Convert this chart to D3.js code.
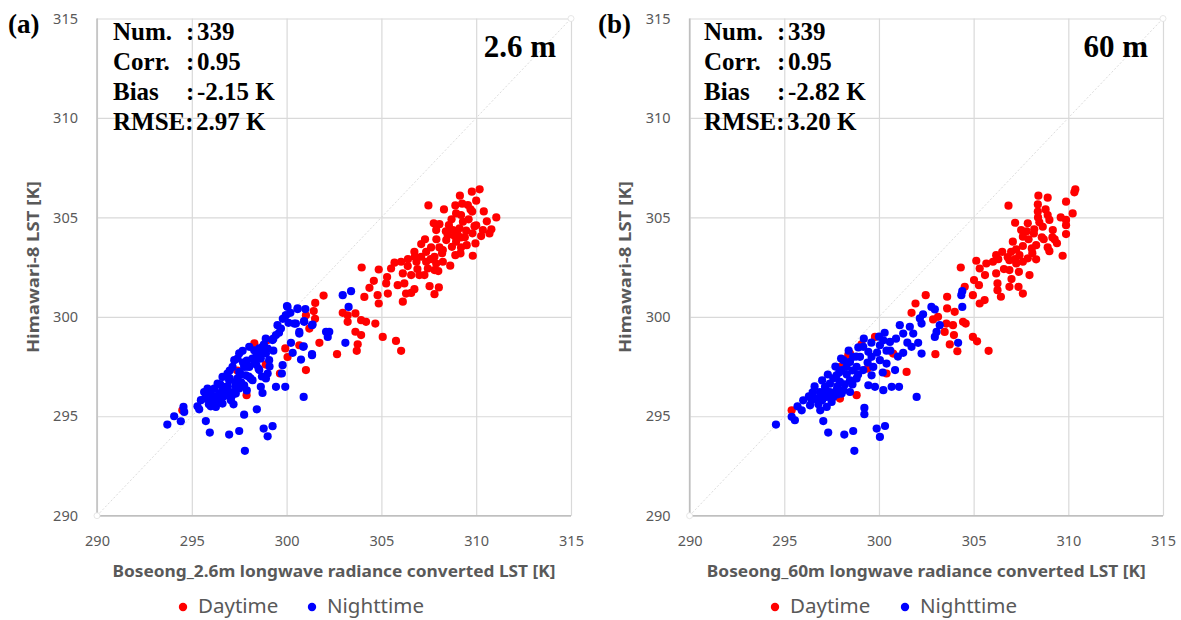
<!DOCTYPE html>
<html><head><meta charset="utf-8">
<script src="https://cdn.jsdelivr.net/npm/d3@7"></script>
<style>
body{margin:0;background:#fff;}
svg{display:block;}
</style></head>
<body><svg id="c" width="1181" height="620"></svg>
<script>
const ticks = [290,295,300,305,310,315];
const panelLabels = ["(a)","(b)"];
const resLabels = ["2.6 m","60 m"];
const xTitles = ["Boseong_2.6m longwave radiance converted LST [K]","Boseong_60m longwave radiance converted LST [K]"];
const yTitle = "Himawari-8 LST [K]";
const statsA = {num:"339", corr:"0.95", bias:"-2.15 K", rmse:"2.97 K"};
const statsB = {num:"339", corr:"0.95", bias:"-2.82 K", rmse:"3.20 K"};
const seriesNames = ["Daytime","Nighttime"];

const dayA = [
[310.18,306.41],[309.77,306.29],[309.14,306.09],[310.0,305.84],[309.26,305.69],[309.56,305.62],[307.48,305.6],
[309.79,305.29],[308.94,305.2],[309.2,305.12],[311.06,305.0],[310.56,304.8],[307.76,304.7],[308.06,304.66],
[308.56,304.61],[309.3,304.78],[309.91,304.56],[307.89,304.36],[308.77,304.36],[309.12,304.45],[309.47,304.33],
[310.35,304.36],[310.7,304.19],[310.26,304.06],[308.86,304.06],[309.2,303.99],[308.42,303.86],[308.94,303.78],
[309.96,303.69],[307.1,303.66],[307.62,303.49],[308.06,303.49],[309.2,303.49],[306.74,303.27],[307.36,303.27],
[308.24,303.36],[308.72,303.52],[309.17,303.19],[306.76,303.02],[307.1,303.02],[307.8,303.02],[309.82,303.07],
[306.85,302.77],[307.36,302.77],[307.89,302.68],[308.24,302.77],[308.63,302.57],[305.69,302.72],[306.04,302.77],
[306.39,302.55],[305.51,302.43],[303.96,302.48],[304.86,302.38],[307.45,302.43],[307.8,302.35],[306.13,302.18],
[306.57,302.1],[307.27,302.1],[304.6,301.81],[305.25,301.68],[305.86,301.59],[306.21,301.68],[304.37,301.46],
[306.74,301.39],[307.54,301.54],[308.03,301.48],[307.8,301.14],[306.3,301.17],[306.57,301.2],[305.34,301.17],
[304.8,301.09],[304.1,301.0],[306.13,300.76],[304.86,300.67],[301.95,301.07],[301.51,300.7],[301.43,300.29],
[302.96,300.2],[303.22,300.08],[303.63,300.17],[303.93,299.83],[304.19,299.75],[304.68,299.66],[303.22,299.75],
[303.63,299.25],[303.93,299.08],[305.07,298.99],[305.77,298.79],[306.04,298.29],[303.75,298.62],[303.7,298.29],
[302.66,298.12],[301.73,298.69],[301.02,300.08],[301.2,299.41],[300.67,298.57],[308.5,304.1],[309.6,304.9],
[308.3,305.4],[307.9,303.9],[301.02,297.32],[300.05,297.98],[299.65,297.15],[297.89,296.06],[294.5,295.3],
[298.3,298.66],[299.0,298.83],[299.93,298.41],[298.9,297.6],[297.4,297.3],[301.5,299.9],
[309.0,304.2],[308.7,304.9],[309.5,303.6],[308.2,303.2],[307.6,302.9],[310.0,304.6],[309.7,305.4],
[308.9,305.6],[307.3,303.9],[306.9,302.4],[308.4,304.3],[309.4,304.0],[310.4,305.3],[307.0,302.1],
[306.4,302.9],[305.3,302.0],[308.0,302.3],[308.9,303.1],[309.8,304.2],[310.8,304.4]
];
const nightA = [
[302.96,301.09],[303.4,301.29],[303.27,300.5],[302.08,299.25],[302.25,299.25],[302.17,298.99],[303.1,298.69],
[300.05,300.5],[300.58,300.39],[300.99,300.39],[299.96,300.08],[300.4,299.66],[300.92,299.78],[301.34,299.58],
[300.67,299.16],[300.88,298.49],[301.34,298.12],[300.02,300.54],[300.58,300.42],[299.96,300.08],[300.1,299.7],
[300.49,299.66],[300.93,299.75],[301.37,299.61],[300.67,299.24],[299.52,299.58],[299.7,299.41],[299.44,299.08],
[299.26,298.83],[300.23,298.69],[300.9,298.52],[301.34,298.07],[300.76,297.85],[300.32,298.19],[299.79,297.57],
[299.75,297.15],[298.73,298.49],[298.56,298.41],[298.29,298.32],[298.03,298.49],[297.68,298.29],[297.41,297.9],
[297.24,297.82],[297.5,298.16],[298.91,298.16],[299.08,297.82],[298.64,297.9],[298.29,297.73],[298.03,297.48],
[297.76,297.48],[298.56,297.32],[299.0,297.15],[297.5,297.23],[297.15,297.48],[296.88,297.15],[296.62,296.98],
[296.97,296.81],[297.41,296.9],[297.85,297.06],[298.2,296.81],[297.76,296.56],[297.32,296.48],[296.8,296.48],
[296.36,296.64],[296.18,296.39],[295.83,296.39],[295.65,296.22],[296.0,296.14],[296.44,296.14],[296.88,296.14],
[297.32,296.14],[296.36,295.81],[296.0,295.81],[295.48,295.81],[296.62,295.64],[296.27,295.47],[297.06,295.81],
[298.64,296.48],[299.44,296.48],[299.93,296.48],[298.73,296.17],[300.9,295.97],[298.43,295.35],[297.76,295.08],
[295.39,295.35],[294.56,295.47],[294.6,295.22],[294.07,295.0],[294.42,294.75],[293.71,294.58],[295.74,294.76],
[295.95,294.18],[296.97,294.08],[297.5,294.26],[298.79,294.38],[299.26,294.5],[299.0,293.99],[297.8,293.26],
[298.52,297.4],[298.91,296.9],[297.0,296.9],[297.6,296.7],[298.0,297.0],[296.6,296.3],[297.1,296.2],
[298.4,298.0],[298.8,298.6],[299.3,298.3],[297.9,297.8],[296.4,295.9],[295.9,295.6],[297.9,296.3],
[296.2,296.0],[296.5,296.6],[296.9,296.5],[297.3,296.7],[297.6,297.1],[297.9,297.5],[298.2,297.9],
[298.6,298.2],[299.0,298.4],[299.3,298.9],[299.6,299.2],[299.8,299.9],[300.2,300.2],[297.0,297.3],
[296.7,296.0],[296.3,295.7],[295.7,295.9],[295.3,295.5],[297.5,296.4],[298.1,296.9],[298.4,297.6],
[297.2,295.6],[296.0,295.5],[299.1,297.5],[298.7,297.0],[297.1,296.0],[296.5,295.7],[297.7,297.7],[298.9,298.9]
];
const dayB = [
[310.37,306.41],[310.32,306.26],[308.42,306.09],[308.91,305.99],[306.84,305.59],[308.39,305.65],[309.88,305.79],
[308.39,305.29],[310.23,305.2],[308.91,305.12],[309.0,304.87],[309.88,304.87],[307.19,304.73],[307.86,304.7],
[308.47,304.75],[309.88,304.61],[308.65,304.53],[309.18,304.36],[307.51,304.36],[308.18,304.19],[309.88,304.16],
[307.6,304.03],[309.16,303.99],[307.07,303.78],[309.28,303.89],[308.91,303.49],[307.6,303.56],[308.07,303.44],
[307.25,303.39],[306.98,303.27],[306.51,303.27],[306.19,303.1],[307.42,303.1],[307.86,302.94],[308.3,302.89],
[309.7,303.07],[306.89,302.85],[307.25,302.68],[307.6,302.77],[305.67,302.68],[306.02,302.77],[305.14,302.82],
[304.32,302.48],[305.32,302.43],[306.19,302.18],[306.89,302.35],[307.39,302.26],[307.95,302.1],[305.02,301.85],
[305.28,301.59],[306.26,301.68],[306.89,301.51],[307.37,301.51],[306.26,301.34],[306.44,301.01],[307.6,301.17],
[304.53,301.51],[304.96,301.09],[305.58,300.84],[305.32,300.67],[302.47,301.09],[303.6,301.01],[301.93,300.67],
[301.72,300.2],[303.6,300.42],[304.0,300.25],[303.12,300.0],[302.86,299.87],[303.56,299.66],[303.91,299.58],
[304.44,299.75],[304.58,299.66],[303.47,299.24],[303.96,299.08],[304.96,298.99],[305.18,298.77],[303.74,298.61],
[304.14,298.27],[302.98,298.12],[305.79,298.29],[300.75,298.15],[299.79,298.99],[308.2,304.4],[307.9,303.9],
[308.7,303.9],[306.8,303.0],[295.39,295.3],[298.38,298.07],[299.08,298.62],[298.82,296.06],[297.94,295.89],
[300.4,297.15],[301.46,297.23],[298.47,298.15],[299.4,297.4],[298.0,297.5],
[308.6,304.0],[309.4,303.7],[308.3,303.6],[307.2,302.9],[308.8,305.4],[309.6,305.0],[307.8,304.3],
[308.1,303.2],[306.6,302.4],[307.0,301.9],[305.6,302.1],[309.0,303.3],[308.4,305.0],[306.3,302.9]
];
const nightB = [
[304.4,301.29],[304.35,301.09],[304.4,300.5],[302.77,300.5],[302.95,300.37],[302.33,300.13],[302.16,299.92],
[302.25,299.66],[303.21,299.58],[303.04,299.24],[302.95,298.99],[301.63,299.5],[301.1,299.58],[301.81,299.16],
[301.28,299.16],[302.07,298.69],[304.18,298.69],[300.23,298.82],[300.58,298.74],[300.05,298.57],[301.72,298.49],
[302.25,298.15],[301.28,298.19],[298.91,298.46],[299.17,298.49],[299.44,298.24],[298.64,297.99],[298.47,297.73],
[298.82,297.48],[299.17,297.32],[299.61,297.06],[298.12,297.82],[298.29,297.48],[298.03,297.32],[297.76,297.06],
[297.59,296.9],[297.94,296.73],[298.47,296.81],[297.41,296.64],[297.15,296.48],[296.88,296.22],[297.41,296.22],
[297.76,296.31],[298.12,296.31],[298.47,296.22],[297.24,295.97],[297.59,295.97],[297.0,295.81],[297.5,295.72],
[297.24,295.47],[296.44,295.81],[296.36,295.55],[295.92,295.3],[295.56,294.8],[295.39,294.97],[294.56,294.58],
[297.06,294.76],[297.32,294.18],[298.17,294.08],[298.64,294.26],[299.23,295.42],[299.23,295.1],[299.88,294.38],
[300.32,294.51],[300.05,293.96],[298.7,293.26],[301.99,295.97],[300.23,296.31],[300.67,296.48],[301.06,296.48],
[300.4,297.65],[300.85,297.32],[299.79,296.48],[299.44,296.56],[298.03,296.14],[298.82,296.9],[299.0,297.99],
[299.7,297.48],[300.05,297.82],[299.61,297.99],[300.6,298.3],[300.9,298.9],[301.5,298.7],[298.3,297.1],
[297.8,296.5],[297.0,296.1],[296.8,295.6],[298.6,297.3],[299.9,298.2],[300.3,299.2],[301.0,298.0],
[296.3,296.0],[296.6,296.5],[297.0,296.8],[297.3,297.1],[297.7,297.5],[298.0,297.9],[298.4,298.3],
[298.8,298.0],[299.2,298.9],[299.6,298.7],[300.0,299.0],[300.4,298.3],[296.0,295.8],[295.7,295.5],
[296.7,295.9],[297.4,296.0],[298.2,296.6],[298.9,297.1],[299.4,297.7],[297.8,296.1],[296.9,295.3],[300.2,297.2],
[297.2,296.3],[298.6,296.6],[297.9,297.2],[296.5,296.2]
];

const panels = [
  {label:panelLabels[0], res:resLabels[0], xt:xTitles[0], stats:statsA, day:dayA, night:nightA,
   x0:97, x1:571, ytx:33, statX:113, resX:556, labX:8, leg:[183,312], xtLen:443},
  {label:panelLabels[1], res:resLabels[1], xt:xTitles[1], stats:statsB, day:dayB, night:nightB,
   x0:689.6, x1:1163, ytx:625, statX:704, resX:1148, labX:598, leg:[775,905], xtLen:439}
];
const yTop = 18.5, yBot = 515.7;
const svg = d3.select("#c");
const gray = "#595959";
const sans = "'Noto Sans', 'Open Sans', sans-serif";
const serif = "'Liberation Serif', 'Times New Roman', serif";

panels.forEach(p => {
  const x = d3.scaleLinear().domain([290,315]).range([p.x0,p.x1]);
  const y = d3.scaleLinear().domain([290,315]).range([yBot,yTop]);
  const g = svg.append("g");

  // gridlines
  g.append("g").attr("transform",`translate(0,${yBot})`)
    .call(d3.axisBottom(x).tickValues(ticks).tickSize(-(yBot-yTop)).tickFormat(""))
    .call(s=>{s.select(".domain").remove(); s.selectAll("line").attr("stroke","#d9d9d9").attr("stroke-width",1.2);});
  g.append("g").attr("transform",`translate(${p.x0},0)`)
    .call(d3.axisLeft(y).tickValues(ticks).tickSize(-(p.x1-p.x0)).tickFormat(""))
    .call(s=>{s.select(".domain").remove(); s.selectAll("line").attr("stroke","#d9d9d9").attr("stroke-width",1.2);});
  // axis lines
  g.append("line").attr("x1",p.x0).attr("x2",p.x1).attr("y1",yBot).attr("y2",yBot).attr("stroke","#bfbfbf").attr("stroke-width",1.5);
  g.append("line").attr("x1",p.x0).attr("x2",p.x0).attr("y1",yTop).attr("y2",yBot).attr("stroke","#bfbfbf").attr("stroke-width",1.5);

  // tick labels
  g.append("g").attr("transform",`translate(0,${yBot})`)
    .call(d3.axisBottom(x).tickValues(ticks).tickSize(0).tickPadding(20))
    .call(s=>{s.select(".domain").remove(); s.selectAll("text").attr("fill",gray).style("font-family",sans).style("font-size","14.5px");});
  g.append("g").attr("transform",`translate(${p.x0},0)`)
    .call(d3.axisLeft(y).tickValues(ticks).tickSize(0).tickPadding(19))
    .call(s=>{s.select(".domain").remove(); s.selectAll("text").attr("fill",gray).style("font-family",sans).style("font-size","14.5px");});

  // 1:1 line
  g.append("line").attr("x1",x(290)).attr("y1",y(290)).attr("x2",x(315)).attr("y2",y(315))
    .attr("stroke","#dcdcdc").attr("stroke-width",1).attr("stroke-dasharray","2,2");
  [290,315].forEach(v=>g.append("circle").attr("cx",x(v)).attr("cy",y(v)).attr("r",3)
    .attr("fill","#fff").attr("stroke","#e0e0e0").attr("stroke-width",0.8));

  // points
  g.append("g").selectAll("circle").data(p.day).join("circle")
    .attr("cx",d=>x(d[0])).attr("cy",d=>y(d[1])).attr("r",4.1).attr("fill","#ff0000");
  g.append("g").selectAll("circle").data(p.night).join("circle")
    .attr("cx",d=>x(d[0])).attr("cy",d=>y(d[1])).attr("r",4.1).attr("fill","#0000ff");

  // axis titles
  g.append("text").attr("x",(p.x0+p.x1)/2).attr("y",577).attr("text-anchor","middle")
    .attr("textLength", p.xtLen).attr("lengthAdjust","spacingAndGlyphs")
    .attr("fill",gray).style("font-family",sans).style("font-weight","bold").style("font-size","16px").text(p.xt);
  g.append("text").attr("transform",`translate(${p.ytx+6},${(yTop+yBot)/2}) rotate(-90)`).attr("text-anchor","middle")
    .attr("textLength",172).attr("lengthAdjust","spacingAndGlyphs")
    .attr("fill",gray).style("font-family",sans).style("font-weight","bold").style("font-size","16px").text(yTitle);

  // legend
  const lg = g.append("g");
  lg.append("circle").attr("cx",p.leg[0]).attr("cy",607).attr("r",4.2).attr("fill","#ff0000");
  lg.append("text").attr("x",p.leg[0]+15).attr("y",613).attr("fill",gray).style("font-family",sans).style("font-size","20.5px").text(seriesNames[0]);
  lg.append("circle").attr("cx",p.leg[1]).attr("cy",607).attr("r",4.2).attr("fill","#0000ff");
  lg.append("text").attr("x",p.leg[1]+15).attr("y",613).attr("fill",gray).style("font-family",sans).style("font-size","20.5px").text(seriesNames[1]);

  // panel label
  g.append("text").attr("x",p.labX).attr("y",33).style("font-family",serif).style("font-weight","bold").style("font-size","27px").text(p.label);
  g.append("text").attr("x",p.resX).attr("y",57).attr("text-anchor","end").style("font-family",serif).style("font-weight","bold").style("font-size","31px").text(p.res);

  // stats
  const st = g.append("g").style("font-family",serif).style("font-weight","bold").style("font-size","25px");
  const rows = [["Num.", p.stats.num],["Corr.", p.stats.corr],["Bias", p.stats.bias]];
  const bl = [40,70,100,130];
  rows.forEach((r,i)=>{
    st.append("text").attr("x",p.statX).attr("y",bl[i]).text(r[0]);
    st.append("text").attr("x",p.statX+73).attr("y",bl[i]).text(":");
    st.append("text").attr("x",p.statX+84).attr("y",bl[i]).text(r[1]);
  });
  st.append("text").attr("x",p.statX).attr("y",bl[3]).text("RMSE:");
  st.append("text").attr("x",p.statX+83).attr("y",bl[3]).text(p.stats.rmse);
});
</script></body></html>
